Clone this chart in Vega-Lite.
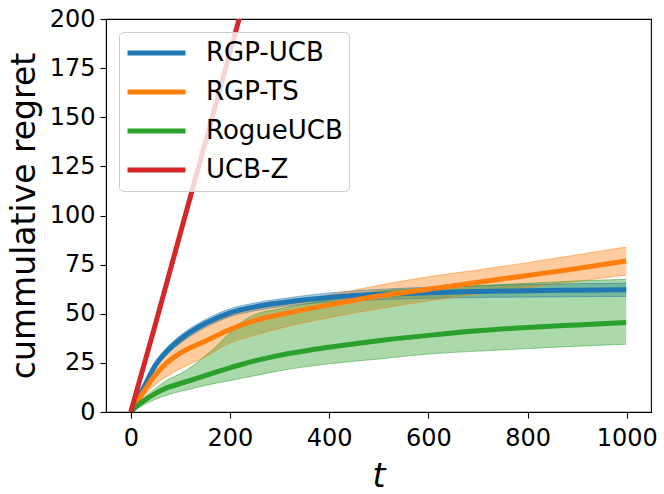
{
  "$schema": "https://vega.github.io/schema/vega-lite/v6.json",
  "autosize": {"type": "none"},
  "width": 545,
  "height": 393,
  "padding": {"left": 106, "top": 19, "right": 13, "bottom": 82},
  "background": "white",
  "config": {
    "view": {"stroke": "black", "strokeWidth": 1.1},
    "font": "DejaVu Sans",
    "axis": {
      "grid": false,
      "domainColor": "black",
      "domainWidth": 1.1,
      "tickColor": "black",
      "tickWidth": 1.1,
      "tickSize": 6,
      "labelColor": "black",
      "labelFont": "DejaVu Sans",
      "labelFontSize": 24,
      "titleColor": "black",
      "titleFont": "DejaVu Sans",
      "titleFontWeight": "normal",
      "titleFontSize": 33
    },
    "legend": {
      "orient": "top-left",
      "offset": 13,
      "symbolType": "stroke",
      "symbolSize": 3364,
      "symbolStrokeWidth": 5,
      "symbolOpacity": 1,
      "symbolOffset": 0,
      "labelOffset": 18,
      "labelFont": "DejaVu Sans",
      "labelFontSize": 26,
      "labelColor": "black",
      "clipHeight": 30,
      "rowPadding": 9,
      "padding": 6,
      "fillColor": "rgba(255,255,255,0.8)",
      "strokeColor": "#cccccc",
      "cornerRadius": 4
    }
  },
  "data": {
    "values": [
      {"algo": "RGP-UCB", "t": 0, "mean": 0, "lo": 0, "hi": 0},
      {"algo": "RGP-UCB", "t": 10, "mean": 5, "lo": 4.2, "hi": 5.8},
      {"algo": "RGP-UCB", "t": 25, "mean": 12, "lo": 10.8, "hi": 13.2},
      {"algo": "RGP-UCB", "t": 50, "mean": 24, "lo": 22.5, "hi": 25.5},
      {"algo": "RGP-UCB", "t": 75, "mean": 31.5, "lo": 29.7, "hi": 33.3},
      {"algo": "RGP-UCB", "t": 100, "mean": 37, "lo": 35, "hi": 39},
      {"algo": "RGP-UCB", "t": 150, "mean": 45, "lo": 43, "hi": 47},
      {"algo": "RGP-UCB", "t": 200, "mean": 50.5, "lo": 48.5, "hi": 52.5},
      {"algo": "RGP-UCB", "t": 250, "mean": 53.5, "lo": 51.5, "hi": 55.5},
      {"algo": "RGP-UCB", "t": 300, "mean": 55.5, "lo": 53.5, "hi": 57.5},
      {"algo": "RGP-UCB", "t": 400, "mean": 58.3, "lo": 56, "hi": 60.6},
      {"algo": "RGP-UCB", "t": 500, "mean": 59.8, "lo": 57.2, "hi": 62.4},
      {"algo": "RGP-UCB", "t": 600, "mean": 60.7, "lo": 57.9, "hi": 63.5},
      {"algo": "RGP-UCB", "t": 700, "mean": 61.3, "lo": 58.3, "hi": 64.3},
      {"algo": "RGP-UCB", "t": 800, "mean": 61.7, "lo": 58.5, "hi": 64.9},
      {"algo": "RGP-UCB", "t": 900, "mean": 62, "lo": 58.7, "hi": 65.3},
      {"algo": "RGP-UCB", "t": 999, "mean": 62.2, "lo": 58.8, "hi": 65.6},
      {"algo": "RGP-TS", "t": 0, "mean": 0, "lo": 0, "hi": 0},
      {"algo": "RGP-TS", "t": 10, "mean": 4, "lo": 3, "hi": 5},
      {"algo": "RGP-TS", "t": 25, "mean": 10, "lo": 7.5, "hi": 12},
      {"algo": "RGP-TS", "t": 50, "mean": 19, "lo": 14, "hi": 23},
      {"algo": "RGP-TS", "t": 75, "mean": 25.5, "lo": 18.5, "hi": 31},
      {"algo": "RGP-TS", "t": 100, "mean": 30, "lo": 22, "hi": 35.5},
      {"algo": "RGP-TS", "t": 150, "mean": 36, "lo": 28, "hi": 43},
      {"algo": "RGP-TS", "t": 200, "mean": 42, "lo": 35, "hi": 49},
      {"algo": "RGP-TS", "t": 250, "mean": 46.5, "lo": 39, "hi": 52.5},
      {"algo": "RGP-TS", "t": 300, "mean": 49.5, "lo": 42.5, "hi": 55.5},
      {"algo": "RGP-TS", "t": 400, "mean": 54.5, "lo": 48, "hi": 59.5},
      {"algo": "RGP-TS", "t": 500, "mean": 59, "lo": 52.5, "hi": 64.5},
      {"algo": "RGP-TS", "t": 600, "mean": 62.5, "lo": 56.5, "hi": 68.8},
      {"algo": "RGP-TS", "t": 700, "mean": 66, "lo": 60, "hi": 72.3},
      {"algo": "RGP-TS", "t": 800, "mean": 69.5, "lo": 63.3, "hi": 76},
      {"algo": "RGP-TS", "t": 900, "mean": 73, "lo": 66.5, "hi": 80},
      {"algo": "RGP-TS", "t": 999, "mean": 76.8, "lo": 69.7, "hi": 84},
      {"algo": "RogueUCB", "t": 0, "mean": 0, "lo": 0, "hi": 0},
      {"algo": "RogueUCB", "t": 10, "mean": 2.5, "lo": 1.5, "hi": 3.5},
      {"algo": "RogueUCB", "t": 25, "mean": 5.5, "lo": 3.5, "hi": 7},
      {"algo": "RogueUCB", "t": 50, "mean": 9.5, "lo": 6.5, "hi": 12},
      {"algo": "RogueUCB", "t": 75, "mean": 12.5, "lo": 8.8, "hi": 16.5},
      {"algo": "RogueUCB", "t": 100, "mean": 14.5, "lo": 10.5, "hi": 19.5},
      {"algo": "RogueUCB", "t": 125, "mean": 16.5, "lo": 12, "hi": 23.5},
      {"algo": "RogueUCB", "t": 150, "mean": 18.5, "lo": 13.5, "hi": 28.5},
      {"algo": "RogueUCB", "t": 175, "mean": 20.5, "lo": 14.8, "hi": 34},
      {"algo": "RogueUCB", "t": 200, "mean": 22.5, "lo": 16, "hi": 40.5},
      {"algo": "RogueUCB", "t": 225, "mean": 24.3, "lo": 17.3, "hi": 46},
      {"algo": "RogueUCB", "t": 250, "mean": 26, "lo": 18.5, "hi": 49.5},
      {"algo": "RogueUCB", "t": 300, "mean": 28.8, "lo": 21, "hi": 52.5},
      {"algo": "RogueUCB", "t": 400, "mean": 33, "lo": 24.5, "hi": 57},
      {"algo": "RogueUCB", "t": 500, "mean": 36.3, "lo": 27, "hi": 61.5},
      {"algo": "RogueUCB", "t": 600, "mean": 39, "lo": 29.5, "hi": 63},
      {"algo": "RogueUCB", "t": 700, "mean": 41.3, "lo": 31, "hi": 64.3},
      {"algo": "RogueUCB", "t": 800, "mean": 43, "lo": 32.3, "hi": 65.5},
      {"algo": "RogueUCB", "t": 900, "mean": 44.3, "lo": 33.5, "hi": 66.7},
      {"algo": "RogueUCB", "t": 999, "mean": 45.5, "lo": 34.5, "hi": 67.5},
      {"algo": "UCB-Z", "t": 0, "mean": 0},
      {"algo": "UCB-Z", "t": 50, "mean": 45},
      {"algo": "UCB-Z", "t": 100, "mean": 91},
      {"algo": "UCB-Z", "t": 150, "mean": 137},
      {"algo": "UCB-Z", "t": 200, "mean": 183},
      {"algo": "UCB-Z", "t": 250, "mean": 229}
    ]
  },
  "encoding": {
    "x": {
      "field": "t",
      "type": "quantitative",
      "scale": {"domain": [-49.95, 1048.95], "nice": false, "zero": false},
      "axis": {
        "values": [0, 200, 400, 600, 800, 1000],
        "format": "d",
        "title": "t",
        "titleFontStyle": "italic",
        "labelPadding": 8,
        "titlePadding": 10,
        "labelFlush": false
      }
    },
    "color": {
      "field": "algo",
      "type": "nominal",
      "scale": {"domain": ["RGP-UCB", "RGP-TS", "RogueUCB", "UCB-Z"], "range": ["#1f77b4", "#ff7f0e", "#2ca02c", "#d62728"]},
      "legend": {"title": null}
    }
  },
  "layer": [
    {
      "transform": [{"filter": "isValid(datum.lo)"}],
      "mark": {"type": "area", "interpolate": "monotone", "fillOpacity": 0.4, "clip": true},
      "encoding": {
        "y": {"field": "lo", "type": "quantitative", "scale": {"domain": [0, 200], "nice": false}},
        "y2": {"field": "hi"}
      }
    },
    {
      "transform": [{"filter": "isValid(datum.lo)"}],
      "mark": {"type": "line", "interpolate": "monotone", "strokeWidth": 1, "opacity": 0.5, "clip": true},
      "encoding": {
        "y": {"field": "lo", "type": "quantitative"}
      }
    },
    {
      "transform": [{"filter": "isValid(datum.lo)"}],
      "mark": {"type": "line", "interpolate": "monotone", "strokeWidth": 1, "opacity": 0.5, "clip": true},
      "encoding": {
        "y": {"field": "hi", "type": "quantitative"}
      }
    },
    {
      "mark": {"type": "line", "interpolate": "monotone", "strokeWidth": 5, "clip": true},
      "encoding": {
        "y": {
          "field": "mean",
          "type": "quantitative",
          "scale": {"domain": [0, 200], "nice": false},
          "axis": {
            "values": [0, 25, 50, 75, 100, 125, 150, 175, 200],
            "title": "cummulative regret",
            "labelPadding": 5,
            "titlePadding": 8
          }
        }
      }
    }
  ]
}
